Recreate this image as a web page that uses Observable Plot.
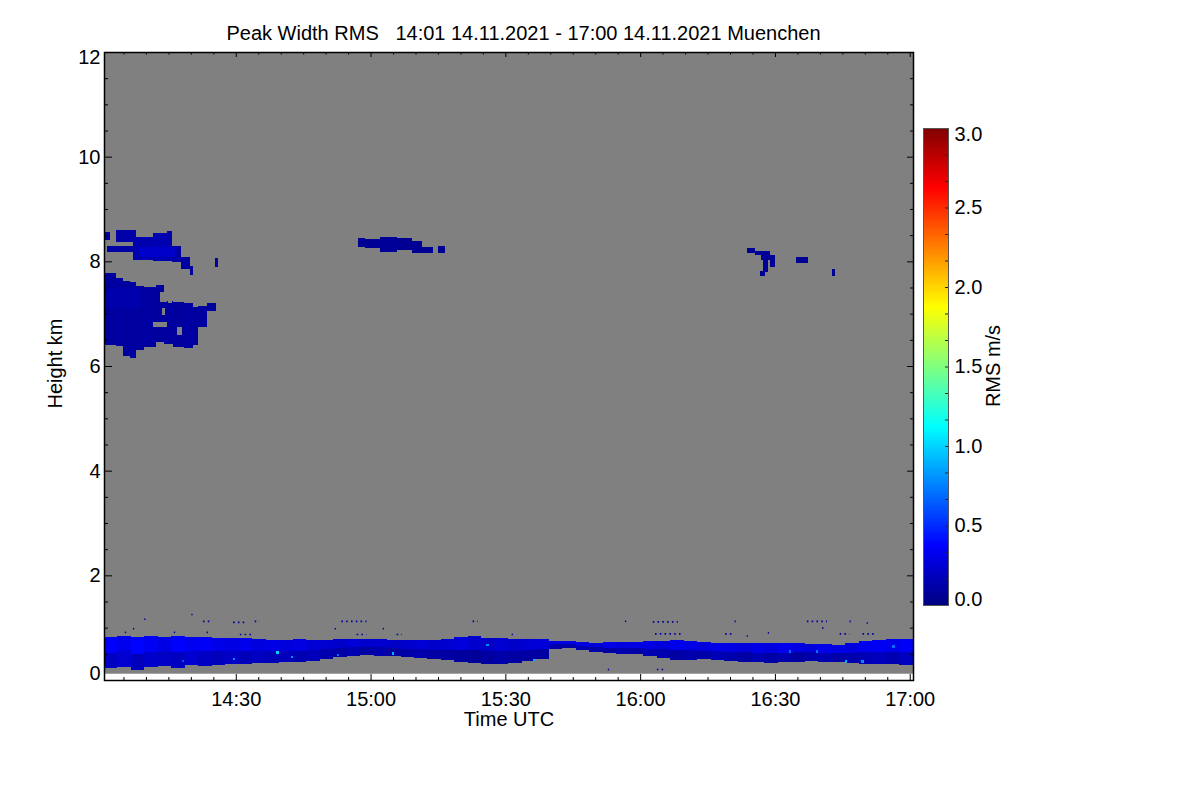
<!DOCTYPE html>
<html><head><meta charset="utf-8">
<script src="https://cdn.jsdelivr.net/npm/d3@7"></script>
<script src="https://cdn.jsdelivr.net/npm/@observablehq/plot@0.6"></script>
<style>
body{margin:0;background:#fff;}
#wrap{position:relative;width:1200px;height:800px;overflow:hidden;}
#wrap svg{position:absolute;left:0;top:0;}
</style></head><body><div id="wrap"></div>
<script>
// ---------- texts ----------
const titleText = "Peak Width RMS\u00a0\u00a0\u00a014:01 14.11.2021 - 17:00 14.11.2021 Muenchen";
const xTitle = "Time UTC";
const yTitle = "Height km";
const cTitle = "RMS m/s";
const xTickLabels = ["14:30","15:00","15:30","16:00","16:30","17:00"];
const yTickValues = [0,2,4,6,8,10,12];
const cTickValues = [0,0.5,1,1.5,2,2.5,3];

// ---------- time/height frame (minutes after 14:00 UTC, km) ----------
const xStart = 0.67, xEnd = 180.73;
const gateBottom = 0.12, gateTop = 12;

// ---------- boundary layer, 3-minute columns ----------
const blStart = 0.67, blStep = 3;
const blTop = [.82,.84,.82,.84,.83,.85,.82,.83,.81,.80, .80,.78,.77,.76,.78,.76,.77,.78,.79,.78,
               .79,.77,.76,.77,.76,.79,.82,.84,.81,.80, .78,.79,.78,.75,.74,.72,.71,.72,.73,.72,
               .74,.75,.77,.74,.72,.71,.70,.71,.70,.71, .70,.71,.69,.68,.67,.71,.74,.76,.78,.78];
const blMid = [.52,.55,.50,.53,.56,.54,.55,.55,.55,.56, .56,.56,.55,.56,.56,.57,.59,.61,.63,.63,
               .63,.61,.60,.60,.58,.58,.58,.57,.55,.56, .55,.58,.60,.68,.68,.65,.63,.62,.62,.61,
               .60,.59,.58,.57,.56,.55,.54,.53,.52,.52, .52,.53,.53,.52,.51,.52,.53,.53,.54,.53];
const blBot = [.22,.25,.20,.24,.27,.23,.28,.26,.29,.31, .30,.33,.32,.35,.34,.37,.40,.44,.46,.47,
               .46,.45,.44,.42,.40,.38,.35,.32,.30,.31, .32,.36,.40,.60,.61,.57,.54,.52,.50,.50,
               .46,.42,.38,.39,.40,.38,.37,.35,.34,.33, .34,.35,.36,.35,.34,.33,.31,.30,.30,.28];
const blRmsUpper = [.36,.32,.38,.34,.30,.37,.33,.35,.31,.29, .32,.28,.30,.27,.29,.25,.24,.22,.26,.23,
                    .24,.21,.23,.25,.22,.24,.27,.23,.21,.24, .22,.25,.27,.28,.30,.29,.27,.31,.28,.30,
                    .29,.27,.32,.30,.28,.31,.29,.27,.30,.28, .32,.29,.27,.31,.30,.28,.33,.34,.31,.35];
const blRmsLower = [.20,.24,.18,.22,.21,.19,.24,.20,.18,.21, .17,.19,.16,.18,.15,.17,.14,.12,.15,.11,
                    .13,.10,.12,.14,.11,.10,.09,.08,.10,.12, .10,.11,.10,.14,.12,.15,.13,.11,.14,.12,
                    .15,.13,.11,.14,.12,.16,.13,.11,.15,.12, .14,.10,.13,.15,.12,.14,.16,.18,.15,.19];

// ---------- elevated clouds (start min, end min, base km, top km, rms) ----------
const cloudT1  = [0.84,1.3,3.45,7.2,7.9,11.6,14.6,15.7,17.9,19.8,25.3, 8.5,
                  0.67,3.45,4.9,6.4,7.9,9.5,12.3,14.0,16.0,18.5,20.5,21.5,23.5, 1.5,
                  57.2,58.8,62.0,65.8,69.2,71.4,74.9,
                  143.7,145.5,147.0,148.8,147.3,146.6,154.8,162.6];
const cloudT2  = [2.0,7.2,7.2,7.9,11.6,14.6,15.7,17.9,19.8,20.5,26.0, 16.5,
                  3.45,4.9,6.4,7.9,9.5,12.3,14.0,16.0,18.5,20.5,21.5,23.5,25.7, 9.0,
                  58.8,62.0,65.8,69.2,71.4,73.8,76.5,
                  145.5,147.0,148.8,150.0,148.4,147.7,157.4,163.4];
const cloudBot = [8.41,8.18,8.36,8.03,8.02,8.00,8.00,7.99,7.85,7.74,7.90, 8.08,
                  6.40,6.38,6.20,6.15,6.30,6.37,6.45,6.42,6.37,6.35,6.40,6.75,7.05, 7.10,
                  8.27,8.25,8.18,8.21,8.16,8.16,8.16,
                  8.15,8.13,8.03,7.90,7.80,7.72,7.96,7.72];
const cloudTop = [8.56,8.29,8.60,8.60,8.47,8.54,8.58,8.30,8.08,7.92,8.06, 8.28,
                  7.78,7.68,7.62,7.60,7.53,7.51,7.55,7.25,7.22,7.20,7.13,7.15,7.20, 7.50,
                  8.45,8.43,8.47,8.45,8.38,8.28,8.29,
                  8.25,8.20,8.20,8.12,8.03,7.82,8.09,7.85];
const cloudRms = [.10,.11,.12,.13,.14,.15,.13,.12,.10,.09,.08, .22,
                  .09,.10,.09,.10,.09,.10,.09,.10,.09,.10,.09,.10,.09, .13,
                  .06,.06,.07,.06,.06,.06,.06,
                  .06,.06,.07,.06,.06,.06,.06,.06];

// ---------- missing gates inside the lower cirrus ----------
const gapT1  = [13.1,13.5,11.5,14.9,16.9];
const gapT2  = [14.6,14.2,14.6,15.8,18.0];
const gapBot = [7.22,6.97,6.75,7.20,6.60];
const gapTop = [7.41,7.10,6.84,7.45,6.75];

// ---------- isolated weak echoes ----------
const speckT1 = [9.6,20.1,22.7,29.4,34.2,53.5,5.3,7.1,16.2,23.5,30.9,52.0,56.9,82.7,62.7,65.8,91.4,116.6,112.8,122.8,141.0,157.1,166.6,170.4,123.3,138.9,143.7,148.4,164.4,169.5,160.5,123.7];
const speckT2 = [9.9,20.4,24.2,32.4,35.3,59.1,5.6,7.4,16.5,23.8,33.8,52.3,59.1,83.9,63.0,67.0,91.7,116.9,113.1,128.4,141.3,161.6,166.9,170.7,129.5,140.6,144.0,148.7,166.6,172.2,160.8,125.5];
const speckH  = [1.17,1.26,1.13,1.11,1.13,1.13,0.92,0.99,0.92,0.92,0.88,0.99,0.88,1.13,0.99,0.88,0.88,1.13,0.21,1.12,1.13,1.13,1.13,1.10,0.89,0.89,0.85,0.91,0.89,0.89,1.00,0.21];

// ---------- bright gates inside the boundary layer ----------
const brightT   = [39.3,29.6,52.7,65.0,86.0,96.3,165.8,159.3,176.4,18.2,42.5,169.5,153.3];
const brightH   = [0.52,0.40,0.48,0.51,0.67,0.38,0.35,0.54,0.64,0.36,0.44,0.35,0.54];
const brightRms = [1.0,0.8,0.7,0.9,0.8,0.9,0.9,0.7,0.7,0.6,0.8,0.8,0.7];

// ---------- helpers ----------
const toDate = m => new Date(Date.UTC(2021,10,14,14,0,0) + m*60000);
const hm = s => { const [h,mm] = s.split(":").map(Number); return (h-14)*60 + mm; };
const jetStops = [[0,[0,0,128]],[0.125,[0,0,255]],[0.375,[0,255,255]],[0.625,[255,255,0]],[0.875,[255,0,0]],[1,[128,0,0]]];
function jet(t){
  t = Math.max(0, Math.min(1, t));
  for (let k = 1; k < jetStops.length; k++) {
    const [a, ca] = jetStops[k-1], [b, cb] = jetStops[k];
    if (t <= b) { const u = (t-a)/(b-a); return `rgb(${ca.map((c,j)=>Math.round(c+(cb[j]-c)*u)).join(",")})`; }
  }
  return "rgb(128,0,0)";
}
const colorScale = {type:"linear", domain:[0,3], interpolate: jet, clamp:true};
const font = "'Liberation Sans', Arial, Helvetica, sans-serif";

// ---------- tables ----------
const blRows = [];
blTop.forEach((top,i) => {
  const t1 = blStart + i*blStep, t2 = t1 + blStep;
  blRows.push({t1, t2, y1: blBot[i], y2: blMid[i], v: blRmsLower[i]});
  blRows.push({t1, t2, y1: blMid[i], y2: top, v: blRmsUpper[i]});
});
const cloudRows = cloudT1.map((t,i) => ({t1:t, t2:cloudT2[i], y1:cloudBot[i], y2:cloudTop[i], v:cloudRms[i]}));
const gapRows = gapT1.map((t,i) => ({t1:t, t2:gapT2[i], y1:gapBot[i], y2:gapTop[i]}));
const speckRows = speckT1.map((t,i) => ({t1:t, t2:speckT2[i], h:speckH[i], v:0.1}));
const brightRows = brightT.map((t,i) => ({t1:t-0.25, t2:t+0.25, y1:brightH[i]-0.025, y2:brightH[i]+0.025, v:brightRms[i]}));

const rectOpts = extra => ({x1: d => toDate(d.t1), x2: d => toDate(d.t2), y1: "y1", y2: "y2", shapeRendering: "crispEdges", ...extra});

const frameW = 1200-104-287, frameH = 800-52-120;
const majorX = xTickLabels.map(hm);
const minorX = d3.range(5, 180, 5).filter(m => !majorX.includes(m));
const minorY = d3.range(0.5, 12, 0.5).filter(v => !yTickValues.includes(v));

const main = Plot.plot({
  width: 1200, height: 800,
  marginLeft: 104, marginRight: 287, marginTop: 52, marginBottom: 120,
  style: {fontFamily: font, fontSize: "20px", background: "white", color: "black"},
  x: {type: "utc", domain: [toDate(xStart), toDate(xEnd)], axis: null},
  y: {domain: [0, 12], axis: null},
  color: colorScale,
  marks: [
    Plot.rect([0], {x1: () => toDate(xStart), x2: () => toDate(xEnd), y1: () => gateBottom, y2: () => gateTop, fill: "#808080"}),
    Plot.rect(blRows, rectOpts({fill: "v"})),
    Plot.rect(cloudRows, rectOpts({fill: "v"})),
    Plot.rect(gapRows, rectOpts({fill: "#808080"})),
    Plot.ruleY(speckRows, {y: "h", x1: d => toDate(d.t1), x2: d => toDate(d.t2), stroke: "v", strokeWidth: 1.6, strokeDasharray: "1.6,3.2", strokeLinecap: "butt"}),
    Plot.rect(brightRows, rectOpts({fill: "v"})),
    // ticks (inward, all four sides)
    Plot.tickX(majorX, {x: d => toDate(d), insetTop: frameH-6, stroke: "black"}),
    Plot.tickX(minorX, {x: d => toDate(d), insetTop: frameH-3, stroke: "black"}),
    Plot.tickX(majorX, {x: d => toDate(d), insetBottom: frameH-5, stroke: "black"}),
    Plot.tickX(minorX, {x: d => toDate(d), insetBottom: frameH-2.5, stroke: "black"}),
    Plot.tickY(yTickValues, {y: d => d, insetRight: frameW-8, stroke: "black"}),
    Plot.tickY(minorY, {y: d => d, insetRight: frameW-4, stroke: "black"}),
    Plot.tickY(yTickValues, {y: d => d, insetLeft: frameW-6, stroke: "black"}),
    Plot.tickY(minorY, {y: d => d, insetLeft: frameW-3, stroke: "black"}),
    Plot.frame({stroke: "black", strokeWidth: 1.5}),
    // tick labels
    Plot.text(xTickLabels, {x: d => toDate(hm(d)), frameAnchor: "bottom", lineAnchor: "middle", dy: 19, text: d => d}),
    Plot.text(yTickValues.filter(v => v > 0 && v < 12), {y: d => d, frameAnchor: "left", lineAnchor: "middle", dx: -4, textAnchor: "end", text: d => String(d)}),
    Plot.text([0], {y: d => d, frameAnchor: "left", lineAnchor: "middle", dx: -4, dy: -7, textAnchor: "end", text: d => String(d)}),
    Plot.text([12], {y: d => d, frameAnchor: "left", lineAnchor: "middle", dx: -4, dy: 5, textAnchor: "end", text: d => String(d)}),
    // titles
    Plot.text([xTitle], {frameAnchor: "bottom", lineAnchor: "middle", textAnchor: "middle", dy: 39, text: d => d}),
    Plot.text([yTitle], {frameAnchor: "left", lineAnchor: "middle", textAnchor: "middle", dx: -49, dy: -3, rotate: -90, text: d => d}),
    Plot.text([titleText], {frameAnchor: "top", lineAnchor: "middle", textAnchor: "middle", dx: 14.5, dy: -19, text: d => d})
  ]
});

const cSteps = d3.range(0, 3, 0.01);
const cMinor = d3.range(1, 18).map(k => k * 3 / 18);
const cbar = Plot.plot({
  width: 1200, height: 800,
  marginLeft: 923, marginRight: 252, marginTop: 128, marginBottom: 195,
  style: {fontFamily: font, fontSize: "20px", background: "transparent", color: "black"},
  x: {domain: [0, 1], axis: null},
  y: {domain: [0, 3], axis: null},
  color: colorScale,
  marks: [
    Plot.rect(cSteps, {x1: () => 0, x2: () => 1, y1: d => d, y2: d => d + 0.012, fill: d => d + 0.005, shapeRendering: "crispEdges"}),
    Plot.tickY(cMinor, {y: d => d, insetLeft: 22, stroke: "#222"}),
    Plot.frame({stroke: "#555", strokeWidth: 1}),
    Plot.text(cTickValues.filter(v => v > 0 && v < 3), {y: d => d, frameAnchor: "right", lineAnchor: "middle", dx: 6, textAnchor: "start", text: d => d.toFixed(1)}),
    Plot.text([0], {y: d => d, frameAnchor: "right", lineAnchor: "middle", dx: 6, dy: -6, textAnchor: "start", text: d => d.toFixed(1)}),
    Plot.text([3], {y: d => d, frameAnchor: "right", lineAnchor: "middle", dx: 6, dy: 6, textAnchor: "start", text: d => d.toFixed(1)}),
    Plot.text([cTitle], {frameAnchor: "right", lineAnchor: "middle", textAnchor: "middle", dx: 45, dy: -1, rotate: -90, text: d => d})
  ]
});

const wrap = document.getElementById("wrap");
wrap.appendChild(main);
wrap.appendChild(cbar);
</script>
</body></html>
